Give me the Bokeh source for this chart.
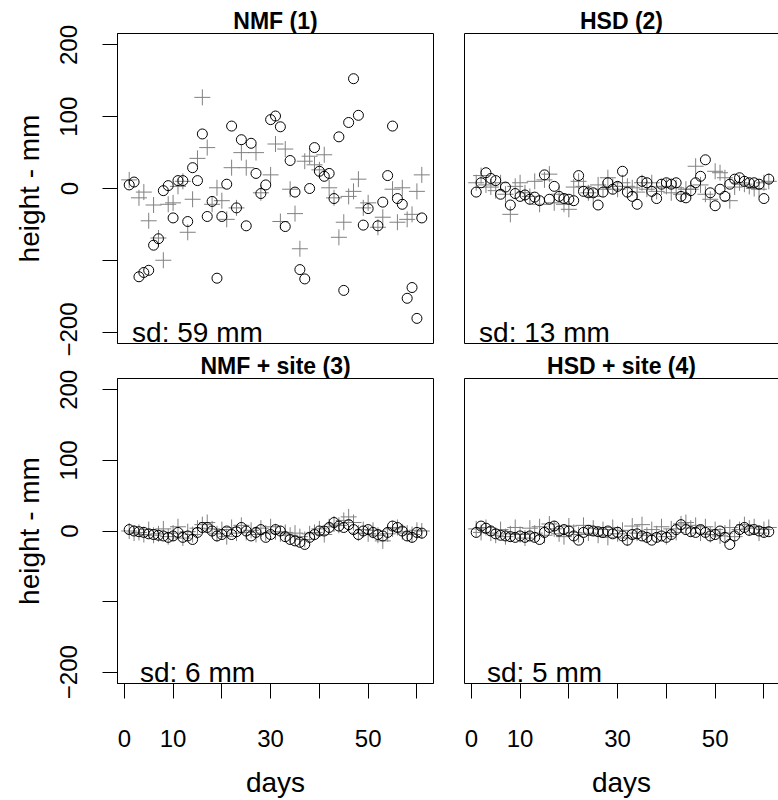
from bokeh.plotting import figure
from bokeh.layouts import column, row
from bokeh.models import FixedTicker, LinearAxis, Label, Range1d
from bokeh.embed import file_html
from bokeh.resources import INLINE

# ---------------- data ----------------
days = list(range(1, 62))

nmf_circles = [5, 9, -123, -117, -114, -79, -70, -3, 4, -41,
               11, 11, -46, 29, 11, 76, -39, -18, -125, -39,
               6, 87, -27, 68, -52, 63, 21, -7, 5, 96,
               101, 86, -53, 39, -5, -113, -126, 0, 57, 24,
               17, 21, -14, 72, -142, 92, 153, 102, -51, -28,
               None, -52, -19, 18, 87, -14, -22, -153, -138, -181,
               -41]
nmf_plus = [12, None, -13, -5, -45, -23, -69, -100, -22, -20,
            3, 10, -61, -15, 42, 127, 57, -22, 1, -17,
            -43, 29, -27, 50, 29, None, 50, -6, None, 19,
            62, -46, 55, -1, -35, -84, 38, 45, 33, 26,
            47, 1, -13, -68, -47, -11, -4, 13, -27, -20,
            None, -54, -40, None, -1, -47, 1, -43, -36, -4,
            19]

hsd_circles = [-5, 8, 22, 14, 11, -8, 2, -23, -7, -11,
               -9, -15, -12, -17, 19, -15, 3, -11, -14, -15,
               -17, 18, -4, -6, -6, -23, -5, 8, -1, 3,
               24, -5, -11, -22, 10, 8, -4, -14, 6, 8,
               6, 8, -11, -13, -3, 8, 17, 40, -6, -24,
               -1, -11, 6, 13, 15, 10, 8, 8, 6, -14,
               13]
hsd_plus = [8, 18, 5, 2, -3, 8, -8, -36, 3, 8,
            -6, -11, 10, -22, 12, 20, -20, -8, -22, -29,
            2, 10, 3, -6, -11, 5, -1, 15, 3, -1,
            8, 3, 1, -5, 8, -1, 8, -4, 2, 3,
            -6, 1, -8, -1, -1, 31, 5, -8, -15, 24,
            22, 15, -17, 2, 8, 6, 3, 0, -1, 8,
            10]

nmfsite_circles = [2, 0, -1, -2, -4, -5, -6, -7, -9, -7,
                   -2, -9, -7, -12, -2, 5, 5, 0, -7, -5,
                   0, -5, -1, 5, 0, -7, -2, 2, -9, -5,
                   2, 0, -8, -12, -14, -16, -19, -9, -5, 0,
                   0, 5, 12, 7, 5, 9, 2, -5, 0, 2,
                   -2, -5, -7, -2, 7, 5, 0, -7, -9, -2,
                   -3]
nmfsite_plus = [0, -3, -2, -5, 2, -6, -4, 3, -8, -3,
                6, -10, -1, -5, 4, 9, 12, 3, -4, 2,
                -8, 5, -3, 8, -2, 1, -5, 4, -3, 6,
                -1, -4, -2, -6, -3, -8, -12, -4, -2, 3,
                -5, 6, 10, 8, 15, 20, 12, -3, 2, -4,
                1, -6, -14, -4, 3, 5, -1, -3, -5, 1,
                0]

hsdsite_circles = [-2, 7, 4, 0, -4, -6, -7, -8, -9, -7,
                   -9, -7, -9, -12, -2, 5, 7, 0, 2, 0,
                   -7, -13, -2, 1, 0, -1, -2, 0, -4, -2,
                   -7, -13, -5, -4, -7, -9, -13, -9, -7, -9,
                   -5, 2, 9, 2, -1, -2, 2, -2, -7, -5,
                   0, -9, -19, -7, 2, 5, 1, 2, 0, -2,
                   -1]
hsdsite_plus = [3, -2, 5, -3, -6, 2, -8, -4, 5, -5,
                -10, 4, -3, 6, -6, 10, 3, -4, -8, 7,
                -2, -5, 8, -3, 4, -6, 2, -9, 5, -4,
                1, -10, 7, -3, 9, -6, 2, -4, 6, -8,
                3, -2, 10, 12, 4, 8, -3, 6, -5, 2,
                -7, -3, 5, -8, 2, 9, 4, 6, -3, 2,
                5]

titles = ["NMF (1)", "HSD (2)", "NMF + site (3)", "HSD + site (4)"]
sd_texts = ["sd: 59 mm", "sd: 13 mm", "sd: 6 mm", "sd: 5 mm"]
y_ticks = [-200, -100, 0, 100, 200]
y_tick_overrides = {-100: ""}
x_ticks = [0, 10, 20, 30, 40, 50, 60]
x_tick_overrides = {20: "", 40: "", 60: ""}

FONT = "Liberation Sans"
GRAY = "#808080"


def pts(vals):
    xs = [d for d, v in zip(days, vals) if v is not None]
    ys = [v for v in vals if v is not None]
    return xs, ys


def ticked_axis(ticks, overrides):
    ax = LinearAxis()
    ax.ticker = FixedTicker(ticks=ticks)
    ax.major_label_overrides = overrides
    ax.minor_tick_line_color = None
    ax.major_tick_in = 0
    ax.major_tick_out = 15
    ax.major_tick_line_color = "black"
    ax.axis_line_color = "black"
    ax.major_label_text_font = FONT
    ax.major_label_text_font_size = "24px"
    ax.major_label_text_color = "black"
    ax.axis_label_text_font = FONT
    ax.axis_label_text_font_size = "28px"
    ax.axis_label_text_font_style = "normal"
    ax.axis_label_text_color = "black"
    return ax


def border_axis():
    ax = LinearAxis()
    ax.ticker = FixedTicker(ticks=[])
    ax.minor_tick_line_color = None
    ax.major_tick_line_color = None
    ax.major_tick_in = 0
    ax.major_tick_out = 0
    ax.minor_tick_out = 0
    ax.major_label_standoff = 0
    ax.axis_line_color = "black"
    return ax


def panel(idx, circ, plus, top_row, left_col):
    if top_row:
        bt, fh, bb = 33, 310, 13
    else:
        bt, fh, bb = 33, 305, 117
    if left_col:
        fw, bl, br, xend = 316, 117, 15, 63.4
    else:
        fw, bl, br, xend = 314, 16, 0, 62.99
    p = figure(width=bl + fw + br, height=bt + fh + bb,
               x_range=Range1d(-1.4, xend), y_range=Range1d(-216, 216),
               output_backend="svg", toolbar_location=None,
               min_border_left=bl, min_border_right=br,
               min_border_top=bt, min_border_bottom=bb,
               x_axis_location=None, y_axis_location=None)
    p.grid.visible = False
    p.background_fill_color = "white"
    p.border_fill_color = "white" if top_row else None

    p.title.text = titles[idx]
    p.title.align = "center"
    p.title.text_font = FONT
    p.title.text_font_size = "23px"
    p.title.text_font_style = "bold"
    p.title.text_color = "black"
    p.title.standoff = 0

    if left_col:
        p.outline_line_color = "black"
        p.outline_line_width = 1
        ya = ticked_axis(y_ticks, y_tick_overrides)
        ya.major_label_orientation = "vertical"
        ya.major_label_standoff = 25
        ya.axis_label = "height - mm"
        ya.axis_label_standoff = 13
        p.add_layout(ya, "left")
    else:
        p.outline_line_color = None
        p.add_layout(border_axis(), "left")
        p.add_layout(border_axis(), "above")

    if not top_row:
        xa = ticked_axis(x_ticks, x_tick_overrides)
        xa.major_label_standoff = 31
        xa.axis_label = "days"
        xa.axis_label_standoff = 17
        p.add_layout(xa, "below")
    elif not left_col:
        p.add_layout(border_axis(), "below")

    px, py = pts(plus)
    p.scatter(px, py, marker="cross", size=16, line_color=GRAY, line_width=1)
    cx, cy = pts(circ)
    p.scatter(cx, cy, marker="circle", size=10, fill_color=None,
              line_color="black", line_width=1)

    p.add_layout(Label(x=15, y=-200, text=sd_texts[idx], text_align="center",
                       text_baseline="alphabetic", text_font=FONT,
                       text_font_size="28px", text_color="black"))
    return p


p1 = panel(0, nmf_circles, nmf_plus, True, True)
p2 = panel(1, hsd_circles, hsd_plus, True, False)
p3 = panel(2, nmfsite_circles, nmfsite_plus, False, True)
p4 = panel(3, hsdsite_circles, hsdsite_plus, False, False)

layout = column(row(p1, p2), row(p3, p4, margin=(-11, 0, 0, 0)))

open("out.html", "w").write(file_html(layout, INLINE))
